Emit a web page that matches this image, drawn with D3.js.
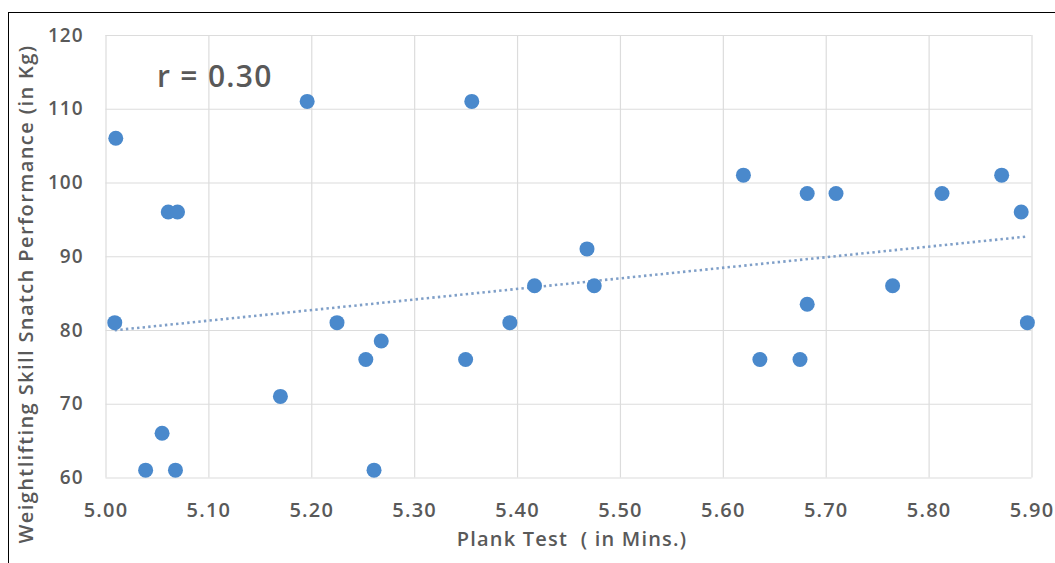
<!DOCTYPE html>
<html>
<head>
<meta charset="utf-8">
<script src="https://cdn.jsdelivr.net/npm/d3@7"></script>
<style>
  html, body { margin: 0; padding: 0; background: #fff; }
  svg { display: block; }
  text { font-family: "Open Sans", "Noto Sans", sans-serif; white-space: pre; }
</style>
</head>
<body>
<svg id="chart" width="1055" height="563"></svg>
<script>
// ---- data ----
const plankMinutes = [5.010, 5.196, 5.061, 5.070, 5.009, 5.225, 5.268, 5.253, 5.170, 5.055,
                      5.039, 5.068, 5.261, 5.356, 5.468, 5.417, 5.475, 5.393, 5.350, 5.620,
                      5.682, 5.710, 5.813, 5.871, 5.890, 5.765, 5.682, 5.896, 5.636, 5.675];
const snatchKg     = [106, 111, 96, 96, 81, 81, 78.5, 76, 71, 66,
                      61, 61, 61, 111, 91, 86, 86, 81, 76, 101,
                      98.5, 98.5, 98.5, 101, 96, 86, 83.5, 81, 76, 76];
const xTicks = [5.00, 5.10, 5.20, 5.30, 5.40, 5.50, 5.60, 5.70, 5.80, 5.90];
const yTicks = [60, 70, 80, 90, 100, 110, 120];
const xTitle = "Plank Test  ( in Mins.)";
const yTitle = "Weightlifting Skill Snatch Performance (in Kg)";
const rLabel = "r = 0.30";

// ---- layout ----
const svg = d3.select("#chart");
const plot = { left: 105.5, right: 1031.5, top: 35, bottom: 477.5 };

const x = d3.scaleLinear().domain([5.0, 5.9]).range([plot.left, plot.right]);
const y = d3.scaleLinear().domain([60, 120]).range([plot.bottom, plot.top]);

// outer frame
svg.append("rect")
  .attr("x", 8.5).attr("y", 12.5)
  .attr("width", 1200).attr("height", 700)
  .attr("fill", "none").attr("stroke", "#000").attr("stroke-width", 1);

// gridlines via axes
const gx = svg.append("g")
  .attr("transform", `translate(0,${plot.bottom})`)
  .call(d3.axisBottom(x).tickValues(xTicks).tickSize(-(plot.bottom - plot.top)).tickFormat(d3.format(".2f")));
gx.select(".domain").remove();
gx.selectAll(".tick line").attr("stroke", "#dcdcdc").attr("stroke-width", 1.2);
gx.selectAll(".tick text")
  .attr("y", 0).attr("dy", null)
  .attr("transform", "translate(0,39)")
  .attr("fill", "#595959").attr("font-size", 20).attr("font-weight", 600)
  .attr("letter-spacing", 1.2)
  .attr("font-family", "'Open Sans', sans-serif");

const gy = svg.append("g")
  .attr("transform", `translate(${plot.left},0)`)
  .call(d3.axisLeft(y).tickValues(yTicks).tickSize(-(plot.right - plot.left)).tickPadding(22));
gy.select(".domain").remove();
gy.selectAll(".tick line").attr("stroke", "#dcdcdc").attr("stroke-width", 1.2);
gy.selectAll(".tick text")
  .attr("fill", "#595959").attr("font-size", 19).attr("font-weight", 600)
  .attr("letter-spacing", 1)
  .attr("font-family", "'Open Sans', sans-serif");

// linear trendline (least squares from data)
const n = plankMinutes.length;
const mx = d3.mean(plankMinutes), my = d3.mean(snatchKg);
let sxy = 0, sxx = 0;
for (let i = 0; i < n; i++) {
  sxy += (plankMinutes[i] - mx) * (snatchKg[i] - my);
  sxx += (plankMinutes[i] - mx) ** 2;
}
const slope = sxy / sxx, intercept = my - slope * mx;
const [xmin, xmax] = d3.extent(plankMinutes);
svg.append("line")
  .attr("x1", x(xmin)).attr("y1", y(intercept + slope * xmin))
  .attr("x2", x(xmax)).attr("y2", y(intercept + slope * xmax))
  .attr("stroke", "#7f9fc8").attr("stroke-width", 2.6)
  .attr("stroke-dasharray", "2.4 3.2");

// points
svg.append("g").selectAll("circle")
  .data(plankMinutes.map((v, i) => ({ x: v, y: snatchKg[i] })))
  .join("circle")
  .attr("cx", d => x(d.x)).attr("cy", d => y(d.y))
  .attr("r", 7.5).attr("fill", "#4a89cc");

// r label
svg.append("text")
  .attr("x", 157).attr("y", 87)
  .attr("fill", "#595959").attr("font-size", 30).attr("font-weight", 600)
  .attr("letter-spacing", 1.3)
  .text(rLabel);

// axis titles
svg.append("text")
  .attr("x", 572).attr("y", 546)
  .attr("text-anchor", "middle")
  .attr("fill", "#595959").attr("font-size", 20).attr("font-weight", 600)
  .attr("letter-spacing", 1.2)
  .text(xTitle);

svg.append("text")
  .attr("transform", "translate(33,294) rotate(-90)")
  .attr("text-anchor", "middle")
  .attr("fill", "#595959").attr("font-size", 20).attr("font-weight", 600)
  .attr("letter-spacing", 1.4)
  .text(yTitle);
</script>
</body>
</html>
